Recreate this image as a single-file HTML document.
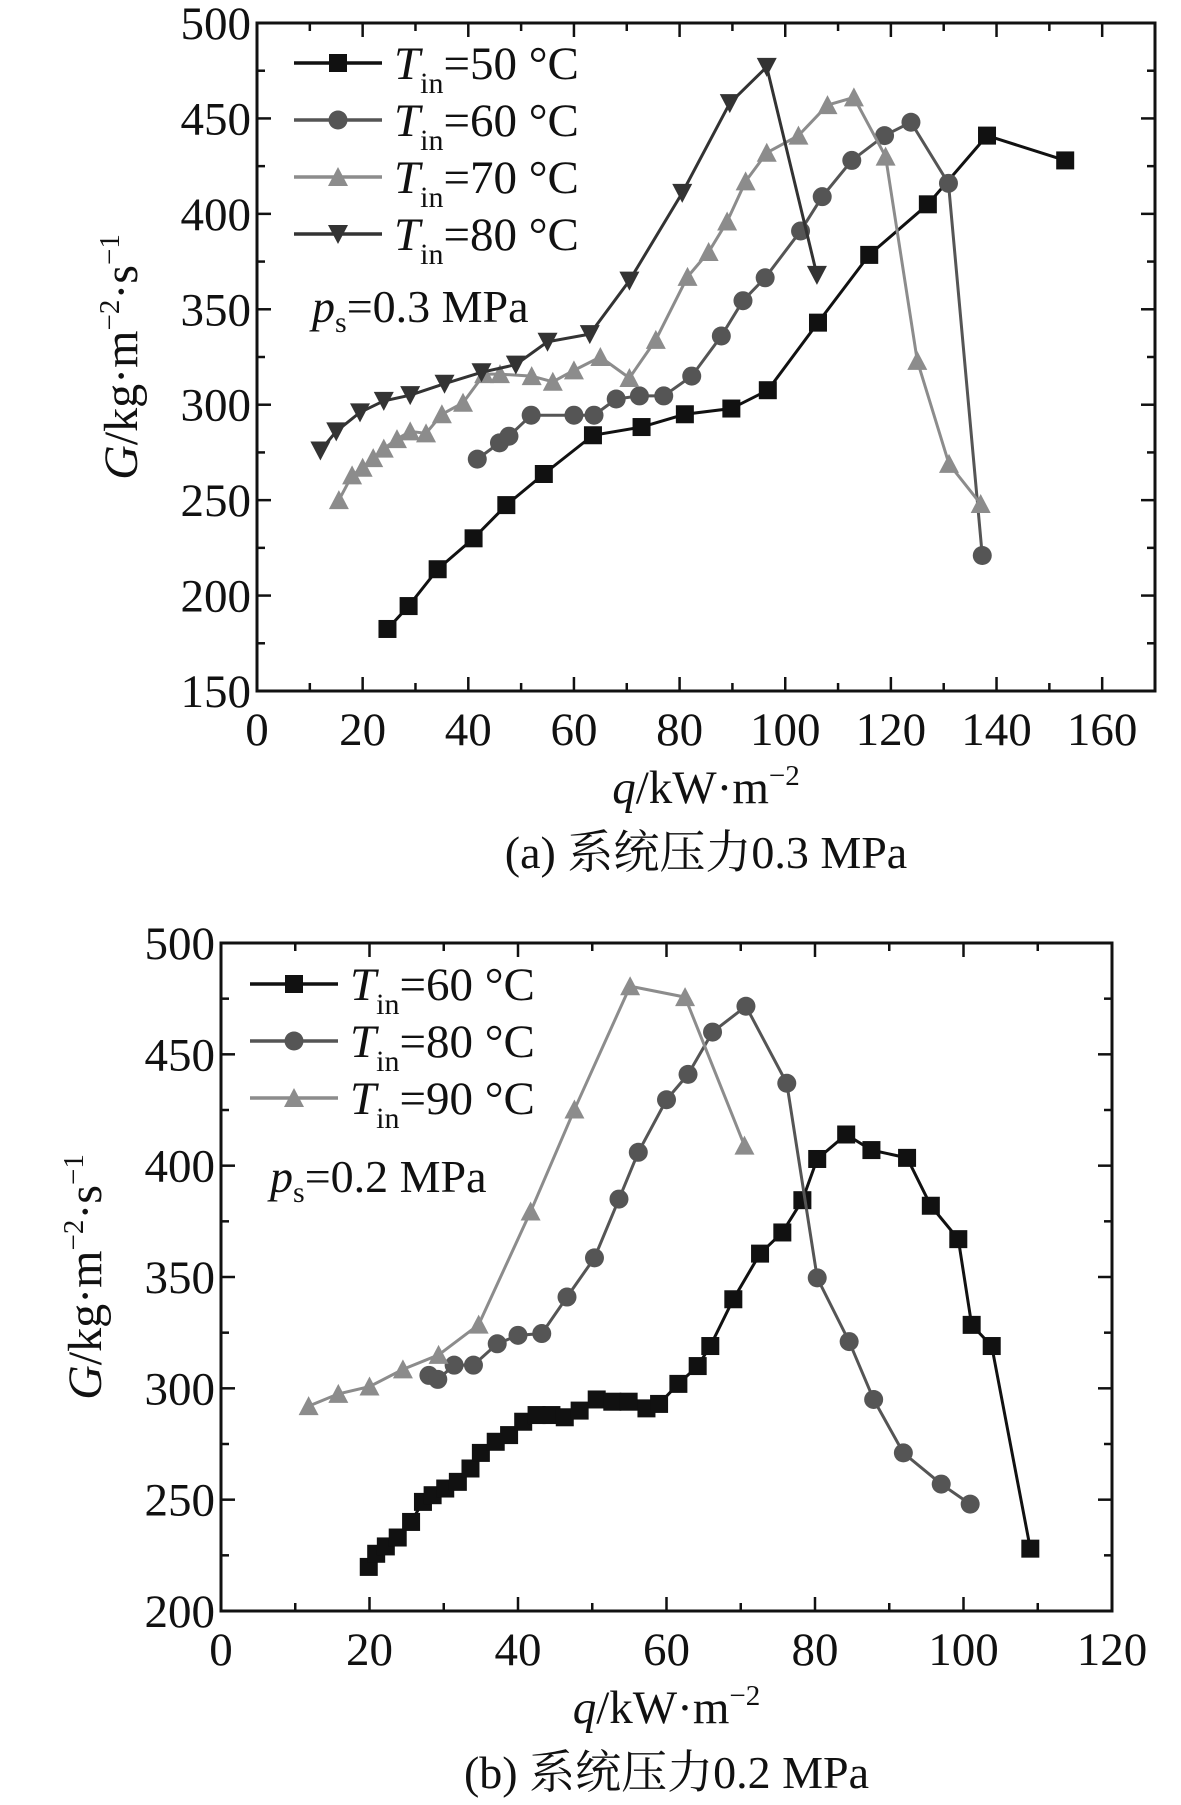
<!DOCTYPE html>
<html><head><meta charset="utf-8"><style>
html,body{margin:0;padding:0;background:#fff;}
svg text{font-family:"Liberation Serif","Noto Serif CJK SC",serif;fill:#111;}
</style></head><body>
<svg id="c" width="1181" height="1800" viewBox="0 0 1181 1800" xmlns="http://www.w3.org/2000/svg"></svg>
<script>
// ---- Panel (a) data: ps=0.3 MPa ----
const aX50=[24.7,28.7,34.2,41,47.2,54.3,63.6,72.8,81,89.8,96.7,106.2,115.9,127,138.2,153];
const aY50=[182.5,194.5,213.8,230,247.4,263.7,284,288.3,295,298,307.6,343,378.5,405,441,428];
const aX60=[41.7,45.9,47.7,51.9,60,63.8,68,72.4,77,82.3,87.9,92,96.2,102.9,107,112.6,118.8,123.8,130.9,137.3];
const aY60=[271.5,280,283.5,294.5,294.5,294.5,303,304.6,304.6,315,336,354.5,366.5,391,409,428,441,448,416,221];
const aX70=[15.5,18,20,22,24,26.5,29,32,35,39,43,46,52,56,60,65,70.5,75.5,81.5,85.5,89,92.5,96.5,102.5,108,113,119,125,131,137];
const aY70=[250,263,267,272,277,282,286,285,295,301,316,316,315,312,318,325,314,334,367,380,396,417,432,441,457,461,430,323,269,248];
const aX80=[12,15,19.5,24,29,35.5,42.5,49,55,63,70.5,80.5,89.5,96.5,106];
const aY80=[276,286,296,302,305,311,317,321,333,337,365,411,458,477,368];
const aXTicks=[0,20,40,60,80,100,120,140,160];
const aYTicks=[150,200,250,300,350,400,450,500];
// ---- Panel (b) data: ps=0.2 MPa ----
const bX60=[19.9,20.9,22.2,23.8,25.6,27.2,28.5,30.2,31.9,33.6,35,37,38.8,40.7,42.5,44.5,46.3,48.3,50.6,52.7,54.9,57.3,59,61.6,64.2,65.9,69,72.6,75.6,78.3,80.3,84.2,87.6,92.4,95.6,99.3,101.1,103.8,109];
const bY60=[219.8,225.7,229,233,240,249,252,255,258,264,271,276,279,285,288,288,287,290,295,294,294,291,293,302,310,319,340,360.5,370,384.5,403,414,407,403.5,382,367,328.5,319,228];
const bX80=[28,29.2,31.4,34,37.2,40,43.2,46.6,50.3,53.6,56.2,60,62.9,66.2,70.7,76.2,80.3,84.6,87.9,91.9,97,100.9];
const bY80=[305.8,304,310.4,310.4,320,323.8,324.6,341,358.6,385,406,429.6,441,460,471.6,437,349.6,321,295,271,257,248];
const bX90=[11.8,15.8,20,24.5,29.3,34.7,41.7,47.6,55.1,62.5,70.5];
const bY90=[292,297.5,300.8,308.5,315,328.6,379.4,425.2,480.6,475.7,409];
const bXTicks=[0,20,40,60,80,100,120];
const bYTicks=[200,250,300,350,400,450,500];

const NS='http://www.w3.org/2000/svg';
const svg=document.getElementById('c');
function mk(tag,attrs,parent){const e=document.createElementNS(NS,tag);for(const k in attrs)e.setAttribute(k,attrs[k]);(parent||svg).appendChild(e);return e;}

function marker(g,type,x,y,col){
  let m;const s=9;
  if(type==='sq') m=mk('rect',{x:x-s,y:y-s,width:2*s,height:2*s,fill:col},g);
  else if(type==='ci') m=mk('circle',{cx:x,cy:y,r:s+0.5,fill:col},g);
  else if(type==='up') m=mk('polygon',{points:`${x},${y-s-1} ${x-s-1},${y+s} ${x+s+1},${y+s}`,fill:col},g);
  else m=mk('polygon',{points:`${x},${y+s+1} ${x-s-1},${y-s} ${x+s+1},${y-s}`,fill:col},g);
  return m;
}

function panel(P){
  const g=mk('g',{});
  
  
  const sx=v=>P.L+(v-P.xmin)/(P.xmax-P.xmin)*(P.R-P.L);
  const sy=v=>P.B-(v-P.ymin)/(P.ymax-P.ymin)*(P.B-P.T);
  const xstep=P.xT[1]-P.xT[0], ystep=P.yT[1]-P.yT[0];
  for(let v=P.xmin;v<=P.xmax+1e-6;v+=xstep/2){
    const major=Math.abs((v-P.xmin)/xstep-Math.round((v-P.xmin)/xstep))<1e-6;const len=major?14:8;const x=sx(v);
    mk('line',{x1:x,y1:P.B,x2:x,y2:P.B-len,stroke:'#111','stroke-width':2.5},g);
    mk('line',{x1:x,y1:P.T,x2:x,y2:P.T+len,stroke:'#111','stroke-width':2.5},g);
  }
  for(let v=P.ymin;v<=P.ymax+1e-6;v+=ystep/2){
    const major=Math.abs((v-P.ymin)/ystep-Math.round((v-P.ymin)/ystep))<1e-6;const len=major?14:8;const y=sy(v);
    mk('line',{x1:P.L,y1:y,x2:P.L+len,y2:y,stroke:'#111','stroke-width':2.5},g);
    mk('line',{x1:P.R,y1:y,x2:P.R-len,y2:y,stroke:'#111','stroke-width':2.5},g);
  }
  const fr=mk('rect',{x:P.L,y:P.T,width:P.R-P.L,height:P.B-P.T,fill:'none',stroke:'#111','stroke-width':3},g);
  
  P.xT.forEach(v=>{const t=mk('text',{x:sx(v),y:P.B+54,'font-size':47,'text-anchor':'middle'},g);t.textContent=v;
    });
  P.yT.forEach(v=>{const t=mk('text',{x:P.L-6,y:sy(v)+16,'font-size':47,'text-anchor':'end'},g);t.textContent=v;
    });
  P.series.forEach(s=>{
    const sg=mk('g',{},g);
    
    
    const pts=s.x.map((v,i)=>sx(v)+','+sy(s.y[i])).join(' ');
    mk('polyline',{points:pts,fill:'none',stroke:s.col,'stroke-width':3},sg);
    s.x.forEach((v,i)=>{const m=marker(sg,s.m,sx(v),sy(s.y[i]),s.col);
      });
  });
  P.series.forEach((s,i)=>{
    const y=P.legY+i*P.legDy;
    const lg=mk('g',{},g);
    
    
    mk('line',{x1:P.legX,y1:y,x2:P.legX+88,y2:y,stroke:s.col,'stroke-width':3.5},lg);
    marker(lg,s.m,P.legX+44,y,s.col);
    const t=mk('text',{x:P.legX+100,y:y+16,'font-size':47},lg);
    t.innerHTML='<tspan font-style="italic">T</tspan><tspan font-size="30" dy="14">in</tspan><tspan dy="-14">='+s.lab+' °C</tspan>';
  });
  const ps=mk('text',{x:P.psX,y:P.psY,'font-size':46},g);
  
  ps.innerHTML='<tspan font-style="italic">p</tspan><tspan font-size="30" dy="10">s</tspan><tspan dy="-10">='+P.ps+' MPa</tspan>';
  const yl=mk('text',{x:0,y:0,'font-size':48,'text-anchor':'middle',transform:`translate(${P.L-120},${(P.T+P.B)/2}) rotate(-90)`},g);
  
  yl.innerHTML='<tspan font-style="italic">G</tspan>/kg·m<tspan font-size="29" dy="-18">−2</tspan><tspan dy="18">·s</tspan><tspan font-size="29" dy="-18">−1</tspan>';
  const xl=mk('text',{x:(P.L+P.R)/2,y:P.B+112,'font-size':47,'text-anchor':'middle'},g);
  
  xl.innerHTML='<tspan font-style="italic">q</tspan>/kW·m<tspan font-size="29" dy="-18">−2</tspan>';
  const cap=mk('text',{x:(P.L+P.R)/2,y:P.B+177,'font-size':46,'text-anchor':'middle'},g);
  
  cap.textContent=P.cap;
}

panel({name:'chart-a',L:257,R:1155,T:23,B:691,xmin:0,xmax:170,ymin:150,ymax:500,xT:aXTicks,yT:aYTicks,
  legX:294,legY:63,legDy:57,psX:312,psY:322,ps:'0.3',cap:'(a) 系统压力0.3 MPa',
  series:[{name:'series-tin-50',x:aX50,y:aY50,col:'#111',m:'sq',lab:'50'},
          {name:'series-tin-60',x:aX60,y:aY60,col:'#555',m:'ci',lab:'60'},
          {name:'series-tin-70',x:aX70,y:aY70,col:'#8c8c8c',m:'up',lab:'70'},
          {name:'series-tin-80',x:aX80,y:aY80,col:'#333',m:'dn',lab:'80'}]});
panel({name:'chart-b',L:221,R:1112,T:943,B:1611,xmin:0,xmax:120,ymin:200,ymax:500,xT:bXTicks,yT:bYTicks,
  legX:250,legY:984,legDy:57,psX:270,psY:1192,ps:'0.2',cap:'(b) 系统压力0.2 MPa',
  series:[{name:'series-tin-60',x:bX60,y:bY60,col:'#111',m:'sq',lab:'60'},
          {name:'series-tin-80',x:bX80,y:bY80,col:'#555',m:'ci',lab:'80'},
          {name:'series-tin-90',x:bX90,y:bY90,col:'#8c8c8c',m:'up',lab:'90'}]});
</script>
</body></html>
